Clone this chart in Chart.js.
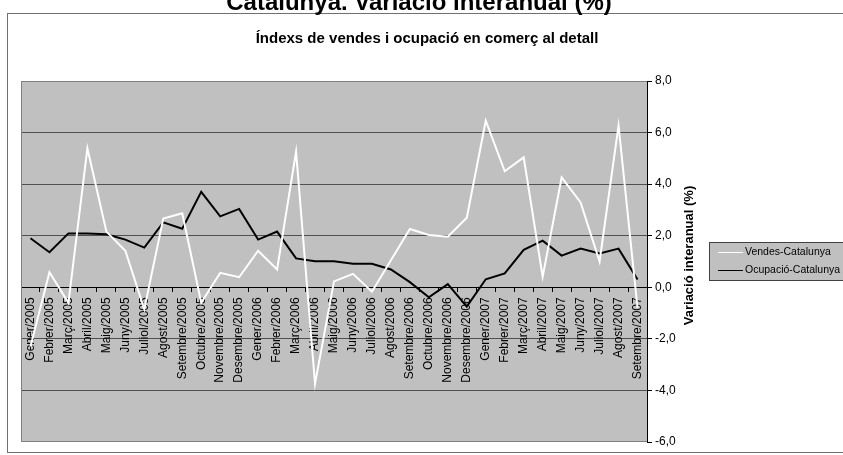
<!DOCTYPE html>
<html>
<head>
<meta charset="utf-8">
<script src="https://cdn.jsdelivr.net/npm/chart.js@4.4.1/dist/chart.umd.min.js"></script>
<style>
html,body{margin:0;padding:0;background:#fff}
</style>
</head>
<body>
<canvas id="grafic" width="843" height="455"></canvas>
<script>
const mesos = [
  "Gener/2005","Febrer/2005","Març/2005","Abril/2005","Maig/2005","Juny/2005",
  "Juliol/2005","Agost/2005","Setembre/2005","Octubre/2005","Novembre/2005","Desembre/2005",
  "Gener/2006","Febrer/2006","Març/2006","Abril/2006","Maig/2006","Juny/2006",
  "Juliol/2006","Agost/2006","Setembre/2006","Octubre/2006","Novembre/2006","Desembre/2006",
  "Gener/2007","Febrer/2007","Març/2007","Abril/2007","Maig/2007","Juny/2007",
  "Juliol/2007","Agost/2007","Setembre/2007"
]
const vendes = [
  -2.3, 0.58, -0.6, 5.39, 2.16, 1.42, -0.85, 2.67, 2.87, -0.6, 0.56, 0.39,
  1.42, 0.69, 5.26, -3.74, 0.23, 0.52, -0.17, 1.05, 2.26, 2.03, 1.96, 2.70,
  6.46, 4.50, 5.04, 0.41, 4.26, 3.29, 1.0, 6.27, -0.8
]
const ocupacio = [
  1.90, 1.36, 2.09, 2.09, 2.06, 1.85, 1.54, 2.52, 2.27, 3.70, 2.75, 3.04,
  1.85, 2.16, 1.12, 1.01, 1.01, 0.91, 0.91, 0.69, 0.20, -0.39, 0.12, -0.75,
  0.31, 0.54, 1.45, 1.81, 1.23, 1.50, 1.31, 1.50, 0.30
]
const yTicks = [-6, -4, -2, 0, 2, 4, 6, 8]

const titol = "Catalunya. Variació interanual (%)"
const subtitol = "Índexs de vendes i ocupació en comerç al detall"
const titolEix = "Variació interanual (%)"
const FONT = 'Arial, "Liberation Sans", sans-serif'

Chart.defaults.font.family = FONT
Chart.defaults.color = "#000"

// fons gris de l'area de dibuix i marc
const fons = {
  id: "fons",
  beforeDraw(chart) {
    const a = chart.chartArea, ctx = chart.ctx
    ctx.save()
    ctx.fillStyle = "#c0c0c0"
    ctx.fillRect(a.left, a.top, a.right - a.left, a.bottom - a.top)
    ctx.restore()
  },
  beforeDatasetsDraw(chart) {
    const a = chart.chartArea, ctx = chart.ctx
    ctx.save()
    ctx.strokeStyle = "#808080"
    ctx.lineWidth = 1
    ctx.beginPath()
    ctx.moveTo(a.right, a.top + 0.5)
    ctx.lineTo(a.left + 0.5, a.top + 0.5)
    ctx.lineTo(a.left + 0.5, a.bottom - 0.5)
    ctx.lineTo(a.right, a.bottom - 0.5)
    ctx.stroke()
    ctx.restore()
  }
}

// titols, marc exterior i llegenda
const decor = {
  id: "decor",
  afterDraw(chart) {
    const ctx = chart.ctx, a = chart.chartArea
    ctx.save()
    ctx.strokeStyle = "#707070"
    ctx.lineWidth = 1
    ctx.strokeRect(7.5, 13.5, 850, 439)

    ctx.fillStyle = "#000"
    ctx.textAlign = "center"
    ctx.textBaseline = "alphabetic"
    ctx.font = "bold 24px " + FONT
    ctx.fillText(titol, 419, 10)
    ctx.font = "bold 15px " + FONT
    ctx.fillText(subtitol, 427, 43)

    ctx.save()
    ctx.translate(689, (a.top + a.bottom) / 2 - 6)
    ctx.rotate(-Math.PI / 2)
    ctx.textBaseline = "middle"
    ctx.font = "bold 13px " + FONT
    ctx.fillText(titolEix, 0, 0)
    ctx.restore()

    // llegenda
    ctx.fillStyle = "#c0c0c0"
    ctx.fillRect(709, 242, 135, 38)
    ctx.strokeStyle = "#404040"
    ctx.strokeRect(709.5, 242.5, 135, 38)
    chart.data.datasets.forEach((ds, i) => {
      const y = 252.5 + i * 18
      ctx.strokeStyle = ds.borderColor
      ctx.lineWidth = 1
      ctx.beginPath()
      ctx.moveTo(718, y)
      ctx.lineTo(743, y)
      ctx.stroke()
      ctx.fillStyle = "#000"
      ctx.textAlign = "left"
      ctx.textBaseline = "middle"
      ctx.font = "10.5px " + FONT
      ctx.fillText(ds.label, 745, y)
    })
    ctx.restore()
  }
}

new Chart("grafic", {
  type: "line",
  data: {
    labels: mesos,
    datasets: [{
      label: "Vendes-Catalunya",
      data: vendes,
      borderColor: "#ffffff",
      borderWidth: 2,
      pointRadius: 0,
      tension: 0
    }, {
      label: "Ocupació-Catalunya",
      data: ocupacio,
      borderColor: "#000000",
      borderWidth: 2,
      pointRadius: 0,
      tension: 0
    }]
  },
  options: {
    responsive: false,
    animation: false,
    devicePixelRatio: 1,
    layout: { padding: { left: 21, top: 81, right: 156, bottom: 13 } },
    plugins: {
      legend: { display: false },
      tooltip: { enabled: false }
    },
    scales: {
      x: {
        type: "category",
        position: { y: 0 },
        offset: true,
        grid: { drawOnChartArea: false, offset: true, tickLength: 4, color: "#000" },
        border: { display: true, color: "#000", width: 1 },
        ticks: {
          autoSkip: false, minRotation: 90, maxRotation: 90,
          padding: 6, font: { size: 12 }, color: "#000"
        }
      },
      y: {
        position: "right",
        min: -6,
        max: 8,
        afterBuildTicks(scale) {
          scale.ticks = yTicks.map(v => ({ value: v }))
        },
        afterFit(scale) {
          scale.width = 40
        },
        grid: {
          color: ctx => (ctx.tick && (ctx.tick.value === 8 || ctx.tick.value === -6)) ? "rgba(0,0,0,0)" : "#505050",
          tickColor: "#000",
          tickLength: 5,
          lineWidth: 1
        },
        border: { display: true, color: "#000", width: 1 },
        ticks: {
          padding: 3,
          font: { size: 12 },
          color: "#000",
          callback: v => v.toFixed(1).replace(".", ",")
        }
      }
    }
  },
  plugins: [fons, decor]
})
</script>
</body>
</html>
